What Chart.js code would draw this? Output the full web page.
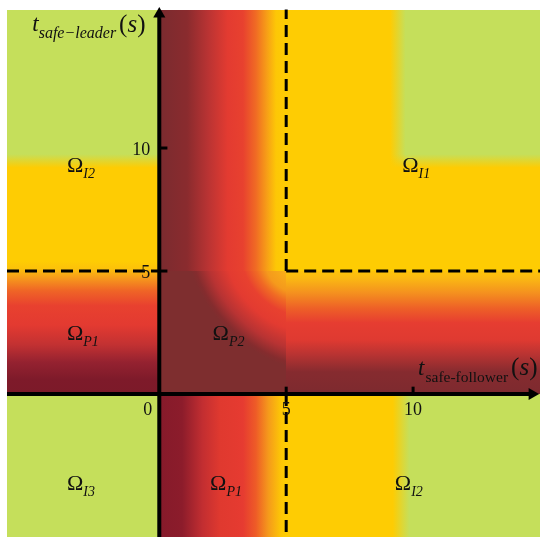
<!DOCTYPE html>
<html><head><meta charset="utf-8">
<script src="https://cdn.jsdelivr.net/npm/chart.js@4"></script>
<style>html,body{margin:0;padding:0;background:#fff}canvas{display:block}</style>
</head><body>
<canvas id="c" width="548" height="550"></canvas>
<script>
// ---------------- data ----------------
const xRange = [-6, 15];          // t_safe-follower (s)
const yRange = [-5.81, 15.63];    // t_safe-leader (s)
const xTicks = [5, 10];
const yTicks = [5, 10];
const originTick = 0;
const safeLimit = 5;              // dashed region boundaries
const xAxisEnd = 14.69;
const yAxisEnd = 15.45;
const regionSymbol = ['Ω', 'Ω', 'Ω', 'Ω', 'Ω', 'Ω', 'Ω'];
const regionLetter = ['I', 'I', 'P', 'P', 'I', 'P', 'I'];
const regionIndex  = ['2', '1', '1', '2', '3', '1', '2'];
const regionX = [-3.64, 9.57, -3.64, 2.1, -3.64, 2.0, 9.28];
const regionY = [9.03, 9.03, 2.2, 2.2, -3.9, -3.9, -3.9];
const xTitle = ['t', 'safe-follower', 's'];
const yTitle = ['t', 'safe\u2212leader', 's'];

// ---------------- styles ----------------
const GREEN = '#c5df5b', YELLOW = '#fecc03';
const leftRamp = [[0,'#7c1a29'],[0.6,'#7e1a2a'],[1.3,'#952230'],[2.0,'#c23132'],[2.8,'#e33a31'],[3.6,'#e8412f'],[4.2,'#ef6526'],[4.7,'#f6981c'],[5.1,'#fcc20a'],[5.4,YELLOW],[9.2,YELLOW],[9.75,GREEN]];
const rightRamp = [[0,'#7d2a2f'],[0.9,'#862b2f'],[1.6,'#b83332'],[2.2,'#df3a31'],[2.9,'#e63d31'],[3.5,'#ee6127'],[4.1,'#f4901f'],[4.7,'#fab813'],[5,'#fec408']];
const topRamp = [[0,'#7a2b2f'],[1.1,'#8a2b2e'],[1.9,'#b83333'],[2.7,'#e33b31'],[3.3,'#e8412f'],[3.8,'#f06a24'],[4.25,'#f7a016'],[4.6,'#fdc706'],[5,YELLOW]];
const bottomRamp = [[0,'#851a2a'],[0.9,'#8c1c2b'],[1.7,'#c22e31'],[2.4,'#e0392f'],[3.3,'#e63b31'],[3.8,'#ee5b27'],[4.3,'#f59a1b'],[4.8,'#fdc705'],[5,YELLOW],[9.2,YELLOW],[9.85,GREEN]];
const cornerStops = [[0,'#f9b018'],[0.2,'#f59a1c'],[0.31,'#f06a24'],[0.44,'#e8412f'],[0.6,'#e33b31'],[0.8,'#b83333'],[0.95,'#852c2e'],[1,'#7e2e2f']];
const CENTER = '#7e2e2f';
const SERIF = '"Liberation Serif","Times New Roman",serif';

const fieldPlugin = {
  id: 'field',
  beforeDatasetsDraw(chart) {
    const {ctx, scales: {x, y}} = chart;
    const px = v => Math.round(x.getPixelForValue(v));
    const py = v => Math.round(y.getPixelForValue(v));
    const [x0, x1] = xRange, [y0, y1] = yRange, L = safeLimit;
    const rect = (a, b, c, d, fill) => {
      ctx.fillStyle = fill;
      ctx.fillRect(px(a), py(d), px(b) - px(a), py(c) - py(d));
    };
    const gradX = (stops, a, b) => {
      const g = ctx.createLinearGradient(x.getPixelForValue(a), 0, x.getPixelForValue(b), 0);
      stops.forEach(([v, c]) => g.addColorStop(Math.min(1, Math.max(0, (v - a) / (b - a))), c));
      return g;
    };
    const gradY = (stops, a, b) => {
      const g = ctx.createLinearGradient(0, y.getPixelForValue(a), 0, y.getPixelForValue(b));
      stops.forEach(([v, c]) => g.addColorStop(Math.min(1, Math.max(0, (v - a) / (b - a))), c));
      return g;
    };
    ctx.save();
    rect(x0, 0, 0, y1, gradY(leftRamp, 0, y1));
    rect(x0, 0, y0, 0, GREEN);
    rect(0, x1, y0, 0, gradX(bottomRamp, 0, x1));
    rect(0, L, L, y1, gradX(topRamp, 0, L));
    rect(L, x1, 0, L, gradY(rightRamp, 0, L));
    rect(L, x1, L, y1, YELLOW);
    rect(9.1, x1, 9.2, y1, gradX([[9.1, YELLOW], [9.7, GREEN]], 9.1, x1));
    rect(9.1, x1, 9.2, 9.75, gradY([[9.2, YELLOW], [9.75, 'rgba(254,204,3,0)']], 9.2, 9.75));
    // centre region
    ctx.save();
    ctx.beginPath();
    ctx.rect(px(0), py(L), px(L) - px(0), py(0) - py(L));
    ctx.clip();
    ctx.fillStyle = CENTER;
    ctx.fill();
    ctx.translate(x.getPixelForValue(L), y.getPixelForValue(L));
    ctx.rotate(Math.PI / 4);
    ctx.scale(1, 0.72);
    const rg = ctx.createRadialGradient(0, 0, 0, 0, 0, 115);
    cornerStops.forEach(([t, c]) => rg.addColorStop(t, c));
    ctx.fillStyle = rg;
    ctx.fillRect(-300, -300, 600, 600);
    ctx.restore();
    ctx.restore();
  },
  afterDatasetsDraw(chart) {
    const {ctx, scales: {x, y}} = chart;
    const px = v => x.getPixelForValue(v), py = v => y.getPixelForValue(v);
    const runs = (x0, y0, parts) => {
      let cx = x0;
      ctx.textAlign = 'left';
      for (const [t, f, dy, gap] of parts) {
        cx += gap || 0;
        ctx.font = f;
        ctx.fillText(t, cx, y0 + (dy || 0));
        cx += ctx.measureText(t).width;
      }
    };
    ctx.save();
    ctx.fillStyle = '#111';
    ctx.textBaseline = 'alphabetic';
    ctx.font = '18px ' + SERIF;
    ctx.textAlign = 'right';
    ctx.fillText(String(originTick), px(originTick) - 7, py(0) + 21);
    yTicks.forEach(v => { ctx.textAlign = 'right'; ctx.fillText(String(v), px(0) - 9, py(v) + 7); });
    xTicks.forEach(v => { ctx.textAlign = 'center'; ctx.fillText(String(v), px(v), py(0) + 21); });
    // axis titles
    runs(px(0) - 127, 31, [
      [yTitle[0], 'italic 23px ' + SERIF, 0],
      [yTitle[1], 'italic 16px ' + SERIF, 7],
      ['(', '25px ' + SERIF, 1, 3],
      [yTitle[2], 'italic 25px ' + SERIF, 1],
      [')', '25px ' + SERIF, 1]
    ]);
    runs(px(10) + 5, py(0) - 19, [
      [xTitle[0], 'italic 23px ' + SERIF, 0],
      [xTitle[1], '15.5px ' + SERIF, 7, 1],
      ['(', '25px ' + SERIF, 0, 3],
      [xTitle[2], 'italic 25px ' + SERIF, 0],
      [')', '25px ' + SERIF, 0]
    ]);
    // region labels
    regionSymbol.forEach((s, i) => {
      runs(px(regionX[i]), py(regionY[i]), [
        [s, '22px ' + SERIF, 0],
        [regionLetter[i], 'italic 14px ' + SERIF, 6],
        [regionIndex[i], 'italic 14px ' + SERIF, 6]
      ]);
    });
    ctx.restore();
  }
};

const line = (pts, extra) => Object.assign({
  data: pts, showLine: true, borderColor: '#000', borderWidth: 3,
  pointRadius: 0, fill: false, tension: 0, clip: false, borderCapStyle: 'butt'
}, extra || {});
const dash = {borderDash: [12, 6]};
const L = safeLimit;

const datasets = [
  line([{x: L, y: L}, {x: L, y: yRange[1]}], dash),
  line([{x: L, y: L}, {x: xRange[1], y: L}], dash),
  line([{x: xRange[0], y: L}, {x: 0, y: L}], dash),
  line([{x: L, y: 0}, {x: L, y: yRange[0]}], dash),
  line([{x: xRange[0], y: 0}, {x: xAxisEnd, y: 0}], {borderWidth: 4}),
  line([{x: 0, y: yRange[0]}, {x: 0, y: yAxisEnd}], {borderWidth: 4}),
  ...xTicks.map(v => line([{x: v, y: 0}, {x: v, y: 0.3}], {borderWidth: 3})),
  ...yTicks.map(v => line([{x: 0, y: v}, {x: 0.32, y: v}], {borderWidth: 3})),
  {data: [{x: xAxisEnd, y: 0}], showLine: false, pointStyle: 'triangle', rotation: 90,
   pointRadius: 7, backgroundColor: '#000', borderColor: '#000', borderWidth: 0, clip: false},
  {data: [{x: 0, y: yAxisEnd}], showLine: false, pointStyle: 'triangle', rotation: 0,
   pointRadius: 7, backgroundColor: '#000', borderColor: '#000', borderWidth: 0, clip: false}
];

new Chart(document.getElementById('c'), {
  type: 'scatter',
  data: {datasets},
  options: {
    responsive: false,
    animation: false,
    events: [],
    layout: {padding: {left: 7, right: 8, top: 9.5, bottom: 13}},
    plugins: {legend: {display: false}, tooltip: {enabled: false}},
    scales: {
      x: {type: 'linear', min: xRange[0], max: xRange[1], display: false},
      y: {type: 'linear', min: yRange[0], max: yRange[1], display: false}
    }
  },
  plugins: [fieldPlugin]
});
</script>
</body></html>
